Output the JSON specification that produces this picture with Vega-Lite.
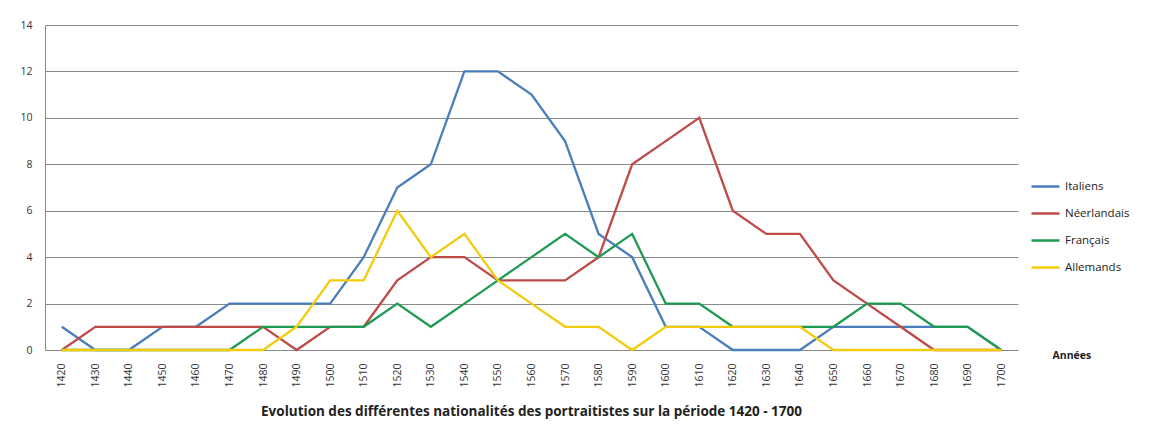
{
  "$schema": "https://vega.github.io/schema/vega-lite/v6.json",
  "width": 973,
  "height": 325,
  "autosize": {"type": "none"},
  "padding": {"left": 45, "top": 25, "right": 139, "bottom": 82},
  "background": "white",
  "config": {"view": {"stroke": null}, "font": "Open Sans"},
  "title": {
    "text": "Evolution des différentes nationalités des portraitistes sur la période 1420 - 1700",
    "orient": "bottom",
    "anchor": "middle",
    "fontSize": 13.5,
    "fontWeight": "bold",
    "font": "Open Sans",
    "color": "#222222",
    "offset": 18
  },
  "data": {
    "values": [
      {"annee": "1420", "serie": "Italiens", "n": 1}, {"annee": "1430", "serie": "Italiens", "n": 0}, {"annee": "1440", "serie": "Italiens", "n": 0}, {"annee": "1450", "serie": "Italiens", "n": 1}, {"annee": "1460", "serie": "Italiens", "n": 1}, {"annee": "1470", "serie": "Italiens", "n": 2}, {"annee": "1480", "serie": "Italiens", "n": 2}, {"annee": "1490", "serie": "Italiens", "n": 2}, {"annee": "1500", "serie": "Italiens", "n": 2}, {"annee": "1510", "serie": "Italiens", "n": 4}, {"annee": "1520", "serie": "Italiens", "n": 7}, {"annee": "1530", "serie": "Italiens", "n": 8}, {"annee": "1540", "serie": "Italiens", "n": 12}, {"annee": "1550", "serie": "Italiens", "n": 12}, {"annee": "1560", "serie": "Italiens", "n": 11}, {"annee": "1570", "serie": "Italiens", "n": 9}, {"annee": "1580", "serie": "Italiens", "n": 5}, {"annee": "1590", "serie": "Italiens", "n": 4}, {"annee": "1600", "serie": "Italiens", "n": 1}, {"annee": "1610", "serie": "Italiens", "n": 1}, {"annee": "1620", "serie": "Italiens", "n": 0}, {"annee": "1630", "serie": "Italiens", "n": 0}, {"annee": "1640", "serie": "Italiens", "n": 0}, {"annee": "1650", "serie": "Italiens", "n": 1}, {"annee": "1660", "serie": "Italiens", "n": 1}, {"annee": "1670", "serie": "Italiens", "n": 1}, {"annee": "1680", "serie": "Italiens", "n": 1}, {"annee": "1690", "serie": "Italiens", "n": 1}, {"annee": "1700", "serie": "Italiens", "n": 0},
      {"annee": "1420", "serie": "Néerlandais", "n": 0}, {"annee": "1430", "serie": "Néerlandais", "n": 1}, {"annee": "1440", "serie": "Néerlandais", "n": 1}, {"annee": "1450", "serie": "Néerlandais", "n": 1}, {"annee": "1460", "serie": "Néerlandais", "n": 1}, {"annee": "1470", "serie": "Néerlandais", "n": 1}, {"annee": "1480", "serie": "Néerlandais", "n": 1}, {"annee": "1490", "serie": "Néerlandais", "n": 0}, {"annee": "1500", "serie": "Néerlandais", "n": 1}, {"annee": "1510", "serie": "Néerlandais", "n": 1}, {"annee": "1520", "serie": "Néerlandais", "n": 3}, {"annee": "1530", "serie": "Néerlandais", "n": 4}, {"annee": "1540", "serie": "Néerlandais", "n": 4}, {"annee": "1550", "serie": "Néerlandais", "n": 3}, {"annee": "1560", "serie": "Néerlandais", "n": 3}, {"annee": "1570", "serie": "Néerlandais", "n": 3}, {"annee": "1580", "serie": "Néerlandais", "n": 4}, {"annee": "1590", "serie": "Néerlandais", "n": 8}, {"annee": "1600", "serie": "Néerlandais", "n": 9}, {"annee": "1610", "serie": "Néerlandais", "n": 10}, {"annee": "1620", "serie": "Néerlandais", "n": 6}, {"annee": "1630", "serie": "Néerlandais", "n": 5}, {"annee": "1640", "serie": "Néerlandais", "n": 5}, {"annee": "1650", "serie": "Néerlandais", "n": 3}, {"annee": "1660", "serie": "Néerlandais", "n": 2}, {"annee": "1670", "serie": "Néerlandais", "n": 1}, {"annee": "1680", "serie": "Néerlandais", "n": 0}, {"annee": "1690", "serie": "Néerlandais", "n": 0}, {"annee": "1700", "serie": "Néerlandais", "n": 0},
      {"annee": "1420", "serie": "Français", "n": 0}, {"annee": "1430", "serie": "Français", "n": 0}, {"annee": "1440", "serie": "Français", "n": 0}, {"annee": "1450", "serie": "Français", "n": 0}, {"annee": "1460", "serie": "Français", "n": 0}, {"annee": "1470", "serie": "Français", "n": 0}, {"annee": "1480", "serie": "Français", "n": 1}, {"annee": "1490", "serie": "Français", "n": 1}, {"annee": "1500", "serie": "Français", "n": 1}, {"annee": "1510", "serie": "Français", "n": 1}, {"annee": "1520", "serie": "Français", "n": 2}, {"annee": "1530", "serie": "Français", "n": 1}, {"annee": "1540", "serie": "Français", "n": 2}, {"annee": "1550", "serie": "Français", "n": 3}, {"annee": "1560", "serie": "Français", "n": 4}, {"annee": "1570", "serie": "Français", "n": 5}, {"annee": "1580", "serie": "Français", "n": 4}, {"annee": "1590", "serie": "Français", "n": 5}, {"annee": "1600", "serie": "Français", "n": 2}, {"annee": "1610", "serie": "Français", "n": 2}, {"annee": "1620", "serie": "Français", "n": 1}, {"annee": "1630", "serie": "Français", "n": 1}, {"annee": "1640", "serie": "Français", "n": 1}, {"annee": "1650", "serie": "Français", "n": 1}, {"annee": "1660", "serie": "Français", "n": 2}, {"annee": "1670", "serie": "Français", "n": 2}, {"annee": "1680", "serie": "Français", "n": 1}, {"annee": "1690", "serie": "Français", "n": 1}, {"annee": "1700", "serie": "Français", "n": 0},
      {"annee": "1420", "serie": "Allemands", "n": 0}, {"annee": "1430", "serie": "Allemands", "n": 0}, {"annee": "1440", "serie": "Allemands", "n": 0}, {"annee": "1450", "serie": "Allemands", "n": 0}, {"annee": "1460", "serie": "Allemands", "n": 0}, {"annee": "1470", "serie": "Allemands", "n": 0}, {"annee": "1480", "serie": "Allemands", "n": 0}, {"annee": "1490", "serie": "Allemands", "n": 1}, {"annee": "1500", "serie": "Allemands", "n": 3}, {"annee": "1510", "serie": "Allemands", "n": 3}, {"annee": "1520", "serie": "Allemands", "n": 6}, {"annee": "1530", "serie": "Allemands", "n": 4}, {"annee": "1540", "serie": "Allemands", "n": 5}, {"annee": "1550", "serie": "Allemands", "n": 3}, {"annee": "1560", "serie": "Allemands", "n": 2}, {"annee": "1570", "serie": "Allemands", "n": 1}, {"annee": "1580", "serie": "Allemands", "n": 1}, {"annee": "1590", "serie": "Allemands", "n": 0}, {"annee": "1600", "serie": "Allemands", "n": 1}, {"annee": "1610", "serie": "Allemands", "n": 1}, {"annee": "1620", "serie": "Allemands", "n": 1}, {"annee": "1630", "serie": "Allemands", "n": 1}, {"annee": "1640", "serie": "Allemands", "n": 1}, {"annee": "1650", "serie": "Allemands", "n": 0}, {"annee": "1660", "serie": "Allemands", "n": 0}, {"annee": "1670", "serie": "Allemands", "n": 0}, {"annee": "1680", "serie": "Allemands", "n": 0}, {"annee": "1690", "serie": "Allemands", "n": 0}, {"annee": "1700", "serie": "Allemands", "n": 0}
    ]
  },
  "encoding": {
    "x": {
      "field": "annee",
      "type": "ordinal",
      "scale": {"type": "point", "padding": 0.5},
      "axis": {
        "title": "Années",
        "titleX": 1007,
        "titleY": 5,
        "titleAlign": "left",
        "titleBaseline": "middle",
        "titleAngle": 0,
        "titleFontSize": 10.5,
        "titleFontWeight": "bold",
        "titleFont": "Open Sans",
        "titleColor": "#222222",
        "labelAngle": -90,
        "labelFontSize": 10.5,
        "labelColor": "#333333",
        "labelPadding": 13,
        "ticks": false,
        "domainColor": "#888888",
        "domainWidth": 1,
        "grid": false
      }
    },
    "y": {
      "field": "n",
      "type": "quantitative",
      "scale": {"domain": [0, 14], "nice": false},
      "axis": {
        "title": null,
        "values": [0, 2, 4, 6, 8, 10, 12, 14],
        "labelFontSize": 10.5,
        "labelColor": "#333333",
        "labelPadding": 13,
        "ticks": false,
        "domainColor": "#888888",
        "gridColor": "#8a8a8a",
        "gridWidth": 1,
        "gridOpacity": 1
      }
    },
    "color": {
      "field": "serie",
      "type": "nominal",
      "sort": ["Italiens", "Néerlandais", "Français", "Allemands"],
      "scale": {
        "domain": ["Italiens", "Néerlandais", "Français", "Allemands"],
        "range": ["#4A7EBB", "#BE4B48", "#1F9A53", "#F2CC0C"]
      },
      "legend": {
        "title": null,
        "orient": "none",
        "legendX": 985,
        "legendY": 146,
        "symbolType": "stroke",
        "symbolSize": 784,
        "symbolStrokeWidth": 2.5,
        "labelFontSize": 11.5,
        "labelColor": "#222222",
        "labelOffset": 4,
        "rowPadding": 6
      }
    }
  },
  "layer": [
    {"transform": [{"filter": "datum.serie === 'Italiens'"}], "mark": {"type": "line", "strokeWidth": 2.3}},
    {"transform": [{"filter": "datum.serie === 'Néerlandais'"}], "mark": {"type": "line", "strokeWidth": 2.3}},
    {"transform": [{"filter": "datum.serie === 'Français'"}], "mark": {"type": "line", "strokeWidth": 2.3}},
    {"transform": [{"filter": "datum.serie === 'Allemands'"}], "mark": {"type": "line", "strokeWidth": 2.3}}
  ]
}
